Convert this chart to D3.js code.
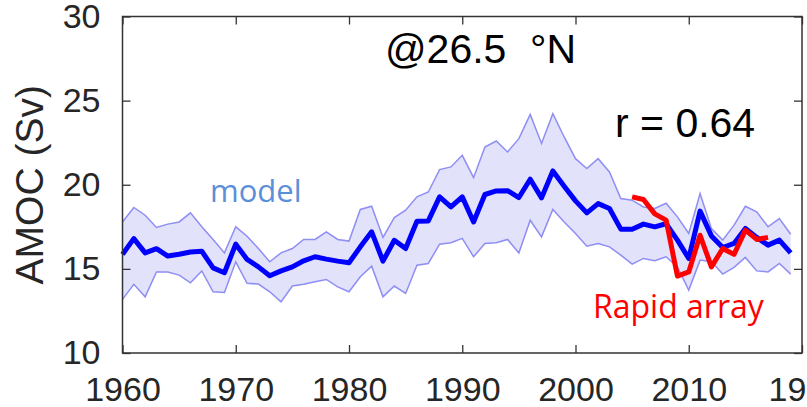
<!DOCTYPE html>
<html>
<head>
<meta charset="utf-8">
<script src="https://cdnjs.cloudflare.com/ajax/libs/d3/7.8.5/d3.min.js"></script>
<style>
  body { margin: 0; background: #fff; }
  svg { display: block; }
</style>
</head>
<body>
<svg></svg>
<script>
// model years and values (Sv)
let years = d3.range(1960, 2020)
let modelMean = [15.86, 16.8, 15.95, 16.2, 15.76, 15.87, 16.0, 16.05, 15.06, 14.77,
                 16.47, 15.56, 15.12, 14.59, 14.88, 15.12, 15.48, 15.72, 15.58, 15.46,
                 15.36, 16.31, 17.2, 15.46, 16.7, 16.21, 17.83, 17.85, 19.28, 18.68,
                 19.28, 17.79, 19.42, 19.63, 19.65, 19.24, 20.33, 19.22, 20.82, 19.91,
                 19.04, 18.33, 18.88, 18.59, 17.36, 17.36, 17.66, 17.5, 17.68, 16.71,
                 15.62, 18.43, 16.96, 16.27, 16.51, 17.4, 16.87, 16.41, 16.71, 15.95]
let modelUpper = [17.79, 18.65, 18.19, 17.46, 17.66, 17.79, 18.33, 17.5, 16.75, 15.95,
                  17.5, 16.94, 16.21, 15.42, 15.95, 16.21, 16.75, 16.75, 17.2, 16.75,
                  16.65, 18.53, 18.72, 16.87, 18.05, 18.49, 19.28, 19.57, 20.9, 21.06,
                  21.75, 20.42, 22.24, 22.6, 21.95, 22.74, 24.18, 22.45, 24.22, 22.84,
                  21.55, 20.96, 21.55, 20.76, 19.18, 19.08, 18.68, 18.59, 18.9, 18.09,
                  17.1, 19.48, 17.4, 16.71, 17.6, 18.72, 18.39, 17.5, 17.99, 17.06]
let modelLower = [13.19, 14.08, 13.34, 14.82, 14.82, 14.63, 14.17, 14.88, 13.64, 13.6,
                  15.42, 14.14, 14.1, 13.64, 13.04, 13.98, 14.08, 14.23, 14.37, 13.93,
                  13.64, 14.53, 15.16, 13.34, 13.98, 13.54, 15.22, 15.32, 16.47, 16.55,
                  16.81, 15.72, 16.51, 16.55, 16.75, 15.95, 17.89, 16.9, 18.53, 17.79,
                  17.1, 16.35, 16.51, 16.31, 15.82, 15.28, 15.62, 15.48, 15.72, 15.12,
                  13.74, 15.52, 15.42, 14.69, 15.09, 15.68, 14.88, 14.82, 15.32, 14.69]

// RAPID array observations
let rapidYears = d3.range(2005, 2018)
let rapidValues = [19.28, 19.12, 18.27, 17.9, 14.57, 14.82, 17.0, 15.12, 16.21, 15.86, 17.3, 16.75, 16.87]

let xTicks = [1960, 1970, 1980, 1990, 2000, 2010, 2020]
let xTickLabels = ["1960", "1970", "1980", "1990", "2000", "2010", "19"]
let yTicks = [10, 15, 20, 25, 30]

let width = 807
let height = 407
let plotLeft = 122.5
let plotRight = 802
let plotTop = 16.5
let plotBottom = 353

let svg = d3.select("svg")
    .attr("width", width)
    .attr("height", height)

let xScale = d3.scaleLinear().domain([1960, 2020]).range([plotLeft, plotRight])
let yScale = d3.scaleLinear().domain([10, 30]).range([plotBottom, plotTop])

let model = years.map((yr, i) => {
    return { year: yr, mean: modelMean[i], hi: modelUpper[i], lo: modelLower[i] }
})
let rapid = rapidYears.map((yr, i) => {
    return { year: yr, value: rapidValues[i] }
})

// shaded spread of the model
let area = d3.area()
    .x(d => xScale(d.year))
    .y0(d => yScale(d.lo))
    .y1(d => yScale(d.hi))

svg.append("path")
    .datum(model)
    .attr("d", area)
    .attr("fill", "#e2e2fb")
    .attr("stroke", "none")

let bandLine = (key) => d3.line().x(d => xScale(d.year)).y(d => yScale(d[key]))

svg.append("path")
    .datum(model)
    .attr("d", bandLine("hi"))
    .attr("fill", "none")
    .attr("stroke", "#8e8ef4")
    .attr("stroke-width", 1.5)

svg.append("path")
    .datum(model)
    .attr("d", bandLine("lo"))
    .attr("fill", "none")
    .attr("stroke", "#8e8ef4")
    .attr("stroke-width", 1.5)

svg.append("path")
    .datum(model)
    .attr("d", bandLine("mean"))
    .attr("fill", "none")
    .attr("stroke", "#0000ff")
    .attr("stroke-width", 5)
    .attr("stroke-linejoin", "round")

svg.append("path")
    .datum(rapid)
    .attr("d", d3.line().x(d => xScale(d.year)).y(d => yScale(d.value)))
    .attr("fill", "none")
    .attr("stroke", "#ff0000")
    .attr("stroke-width", 5)
    .attr("stroke-linejoin", "round")

// axes, ticks pointing inward
let tickFont = (g) => {
    g.selectAll("text")
        .attr("font-family", "'Liberation Sans', Arial, sans-serif")
        .attr("font-size", 34)
        .attr("fill", "#262626")
    g.selectAll("line").attr("stroke", "#333").attr("stroke-width", 1.3)
    g.select(".domain").remove()
}

let xAxis = svg.append("g")
    .attr("transform", "translate(0," + plotBottom + ")")
    .call(d3.axisBottom(xScale).tickValues(xTicks)
        .tickFormat((d, i) => xTickLabels[i])
        .tickSizeInner(-8).tickSizeOuter(0).tickPadding(24))
    .call(tickFont)

// the last label is cut at the right edge
xAxis.selectAll(".tick").filter(d => d === 2020).select("text")
    .attr("text-anchor", "start")
    .attr("x", -34)

svg.append("g")
    .attr("transform", "translate(0," + plotTop + ")")
    .call(d3.axisTop(xScale).tickValues(xTicks).tickFormat("")
        .tickSizeInner(-8).tickSizeOuter(0))
    .call(tickFont)

svg.append("g")
    .attr("transform", "translate(" + plotLeft + ",0)")
    .call(d3.axisLeft(yScale).tickValues(yTicks)
        .tickSizeInner(-8).tickSizeOuter(0).tickPadding(22))
    .call(tickFont)

svg.append("g")
    .attr("transform", "translate(" + plotRight + ",0)")
    .call(d3.axisRight(yScale).tickValues(yTicks).tickFormat("")
        .tickSizeInner(-8).tickSizeOuter(0))
    .call(tickFont)

// plot box
svg.append("rect")
    .attr("x", plotLeft)
    .attr("y", plotTop)
    .attr("width", plotRight - plotLeft)
    .attr("height", plotBottom - plotTop)
    .attr("fill", "none")
    .attr("stroke", "#333")
    .attr("stroke-width", 1.5)

// y axis title
svg.append("text")
    .attr("transform", "translate(43," + ((plotTop + plotBottom) / 2) + ") rotate(-90)")
    .attr("text-anchor", "middle")
    .attr("font-family", "'Liberation Sans', Arial, sans-serif")
    .attr("font-size", 39)
    .attr("fill", "#262626")
    .text("AMOC (Sv)")

// annotations
let title = svg.append("text")
    .attr("x", 385)
    .attr("y", 63)
    .attr("font-family", "'Liberation Sans', Arial, sans-serif")
    .attr("font-size", 41)
    .attr("fill", "#000")
title.append("tspan").text("@26.5")
title.append("tspan").attr("x", 530).text("°N")

svg.append("text")
    .attr("x", 615)
    .attr("y", 137)
    .attr("font-family", "'Liberation Sans', Arial, sans-serif")
    .attr("font-size", 41)
    .attr("fill", "#000")
    .text("r = 0.64")

svg.append("text")
    .attr("x", 210)
    .attr("y", 202)
    .attr("font-family", "'Open Sans', sans-serif")
    .attr("font-size", 31)
    .attr("fill", "#5b8fd9")
    .text("model")

svg.append("text")
    .attr("x", 593)
    .attr("y", 318)
    .attr("font-family", "'Open Sans', sans-serif")
    .attr("font-size", 32)
    .attr("fill", "#ff0000")
    .text("Rapid array")
</script>
</body>
</html>
